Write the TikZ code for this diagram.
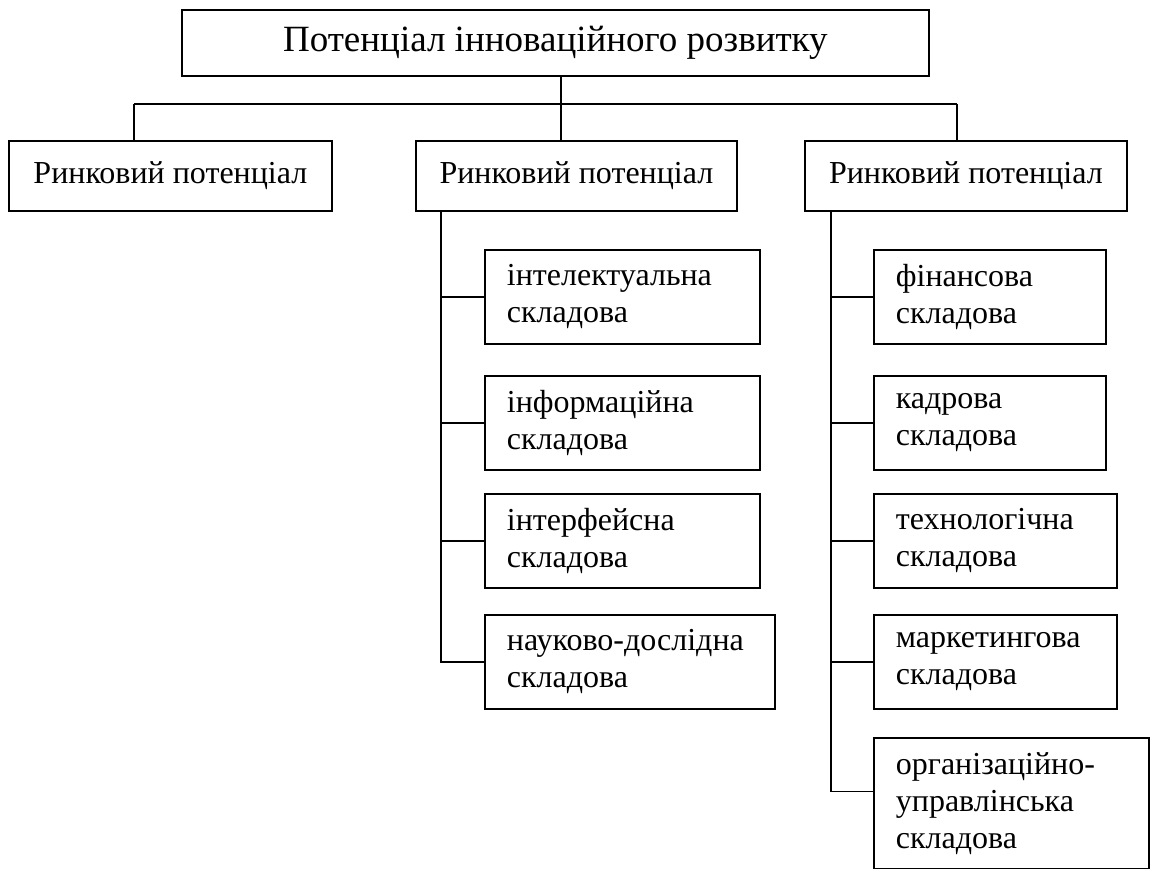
\documentclass[tikz,border=0pt]{standalone}
\usepackage{fontspec}
\setmainfont{Liberation Serif}

\tikzset{
  box/.style={draw, line width=1.8pt, inner sep=0pt, anchor=north west},
  headbox/.style={box, minimum width=747pt, minimum height=66pt, font=\fontsize{37}{42}\selectfont},
  potbox/.style={box, minimum height=70pt, font=\fontsize{32}{36}\selectfont},
  partbox/.style={box, align=left, inner xsep=22pt, minimum height=94pt, font=\fontsize{32}{37}\selectfont},
  link/.style={line width=1.8pt}
}

\begin{document}
\begin{tikzpicture}[x=1pt,y=-1pt]
\useasboundingbox (0,0) rectangle (1150,869);

\node[headbox] (top) at (181,9) {Потенціал інноваційного розвитку};

\node[potbox, minimum width=323pt] (m1) at (8,140) {Ринковий потенціал};
\node[potbox, minimum width=321pt] (m2) at (415,140) {Ринковий потенціал};
\node[potbox, minimum width=322pt] (m3) at (804,140) {Ринковий потенціал};

\node[partbox, text width=231pt] (a1) at (484,249) {інтелектуальна\\складова};
\node[partbox, text width=231pt] (a2) at (484,375) {інформаційна\\складова};
\node[partbox, text width=231pt] (a3) at (484,493) {інтерфейсна\\складова};
\node[partbox, text width=246pt] (a4) at (484,614) {науково-дослідна\\складова};

\node[partbox, text width=188pt] (b1) at (873,249) {фінансова\\складова};
\node[partbox, text width=188pt] (b2) at (873,375) {кадрова\\складова};
\node[partbox, text width=199pt] (b3) at (873,493) {технологічна\\складова};
\node[partbox, text width=199pt] (b4) at (873,614) {маркетингова\\складова};
\node[partbox, text width=231pt, minimum height=131pt] (b5) at (873,737) {організаційно-\\управлінська\\складова};

\coordinate (busL) at (134,104);
\coordinate (busC) at (561,104);
\coordinate (busR) at (957,104);
\coordinate (spA) at (441,0);
\coordinate (spB) at (831,0);

\draw[link] (busL) -- (busR);
\draw[link] (busC |- top.south) -- (busC |- m2.north);
\draw[link] (busL) -- (busL |- m1.north);
\draw[link] (busR) -- (busR |- m3.north);

\draw[link] (spA |- m2.south) |- (a4.west);
\foreach \n in {a1,a2,a3}
  \draw[link] (spA |- \n.west) -- (\n.west);

\draw[link] (spB |- m3.south) |- ([yshift=12pt]b5.west);
\foreach \n in {b1,b2,b3,b4}
  \draw[link] (spB |- \n.west) -- (\n.west);
\end{tikzpicture}
\end{document}
